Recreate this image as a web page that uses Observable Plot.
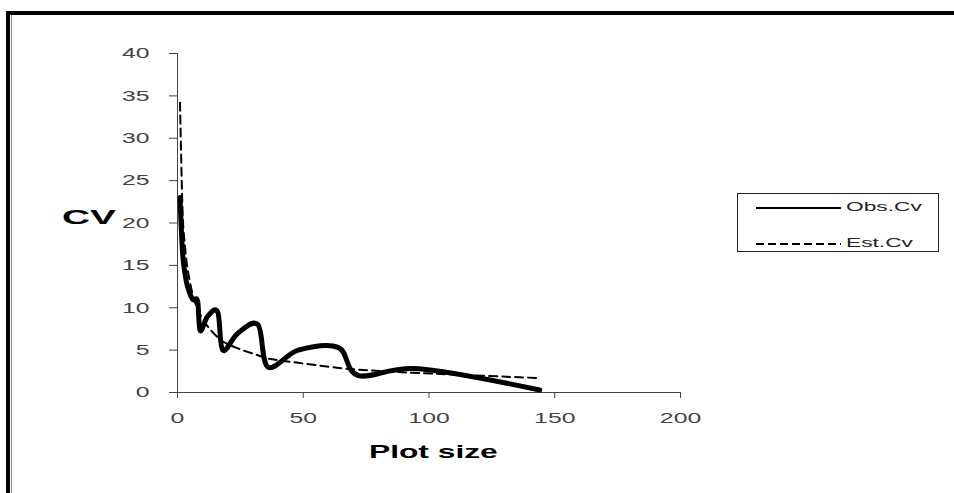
<!DOCTYPE html>
<html>
<head>
<meta charset="utf-8">
<script src="https://cdn.jsdelivr.net/npm/d3@7"></script>
<script src="https://cdn.jsdelivr.net/npm/@observablehq/plot@0.6"></script>
<style>
  html, body { margin: 0; padding: 0; background: #fff; }
  #wrap { position: relative; width: 954px; height: 493px; overflow: hidden; background: #fff; font-family: "Liberation Sans", Arial, sans-serif; }
  .frameTop { position: absolute; left: 6px; top: 11px; width: 948px; height: 4px; background: #000; }
  .frameLeft { position: absolute; left: 6px; top: 11px; width: 4px; height: 482px; background: #000; }
  .frameLeft2 { position: absolute; left: 11px; top: 15px; width: 1px; height: 478px; background: #888; }
  .lbl { position: absolute; white-space: nowrap; color: #000; transform-origin: 0 0; }
  #legend { position: absolute; left: 737px; top: 193px; width: 202px; height: 59px; border: 1px solid #222; box-sizing: border-box; }
  .lrow { position: absolute; left: 18px; height: 12px; }
  .lline { position: absolute; left: 0; width: 85px; top: 5px; }
  .ltext { position: absolute; left: 90px; top: -3px; font-size: 13px; white-space: nowrap; transform: scaleX(1.75); transform-origin: 0 50%; color: #222; }
</style>
</head>
<body>
<div id="wrap">
  <div class="frameTop"></div>
  <div class="frameLeft"></div>
  <div class="frameLeft2"></div>
  <div id="chart"></div>
  <div class="lbl" id="ylab" style="left:62px; top:205px; font-size:21px; font-weight:bold; transform:scaleX(1.85);">CV</div>
  <div class="lbl" id="xlab" style="left:369px; top:441px; font-size:19px; font-weight:bold; transform:scaleX(1.67);">Plot size</div>
  <div id="legend">
    <div class="lrow" style="top:8px;"><svg class="lline" width="85" height="4" style="top:4px"><line x1="0" x2="85" y1="2" y2="2" stroke="#000" stroke-width="2"/></svg><span class="ltext">Obs.Cv</span></div>
    <div class="lrow" style="top:44px;"><svg class="lline" width="85" height="4" style="top:4px"><line x1="0" x2="85" y1="2" y2="2" stroke="#000" stroke-width="2" stroke-dasharray="8,4"/></svg><span class="ltext">Est.Cv</span></div>
  </div>
</div>
<script>
// Plot sizes (x) and coefficients of variation
const plotSize = [1, 2, 3, 4, 6, 8, 9, 12, 16, 18, 24, 32, 36, 48, 64, 72, 96, 144];
const obsCv    = [23, 16.5, 14, 12.5, 11, 10.8, 7.3, 9.0, 9.5, 5.0, 7.0, 8.0, 3.0, 5.0, 5.3, 2.0, 2.8, 0.3];
const estCv    = [34.2, 21.5, 17.2, 14.6, 11.6, 9.8, 9.2, 7.8, 6.5, 6.0, 5.2, 4.4, 4.0, 3.5, 2.9, 2.7, 2.3, 1.7];
const xTicks = [0, 50, 100, 150, 200];
const yTicks = [0, 5, 10, 15, 20, 25, 30, 35, 40];

const obs = plotSize.map((x, i) => ({x, y: obsCv[i]}));
const est = plotSize.map((x, i) => ({x, y: estCv[i]}));

const chart = Plot.plot({
  width: 954,
  height: 493,
  marginLeft: 177,
  marginRight: 274,
  marginTop: 53,
  marginBottom: 101,
  style: {fontFamily: "'Liberation Sans', Arial, sans-serif", fontSize: "15px", color: "#444", background: "transparent"},
  x: {domain: [0, 200]},
  y: {domain: [0, 40]},
  marks: [
    Plot.axisX({ticks: xTicks, tickSize: 6, tickPadding: 14, label: null, stroke: "#444", fill: "#444"}),
    Plot.axisY({ticks: yTicks, tickSize: 8, tickPadding: 20, label: null, stroke: "#444", fill: "#444"}),
    Plot.ruleY([0], {stroke: "#444", strokeWidth: 1}),
    Plot.ruleX([0], {stroke: "#444", strokeWidth: 1}),
    Plot.line(est, {x: "x", y: "y", stroke: "#000", strokeWidth: 2, strokeDasharray: "8,5", curve: "cardinal", tension: 0}),
    Plot.line(obs, {x: "x", y: "y", stroke: "#000", strokeWidth: 5, curve: "cardinal", tension: 0})
  ]
});
document.getElementById("chart").appendChild(chart);

// stretch tick labels horizontally to match the wide lettering of the original
chart.querySelectorAll('[aria-label$="tick label"] text').forEach(t => {
  const w = t.getComputedTextLength();
  t.setAttribute("textLength", (w * 1.65).toFixed(1));
  t.setAttribute("lengthAdjust", "spacingAndGlyphs");
});
</script>
</body>
</html>
